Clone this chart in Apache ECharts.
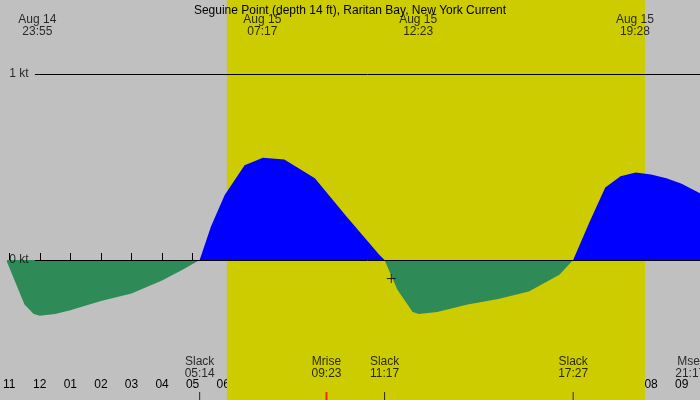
<!DOCTYPE html><html><head><meta charset="utf-8">
<script src="https://cdn.jsdelivr.net/npm/echarts@6/dist/echarts.min.js"></script>
<style>html,body{margin:0;background:#c0c0c0}#c{width:700px;height:400px}</style></head><body><div id="c"></div>
<script>
// hours from midnight Aug 15
const floodT=[5.23,5.6,6.05,6.7,7.3,8,9,10,11.1,11.28, 17.45,18,18.5,19,19.5,20,20.5,21,21.7];
const floodV=[0,0.18,0.35,0.51,0.55,0.54,0.44,0.24,0.03,0, 0,0.21,0.39,0.45,0.47,0.46,0.44,0.41,0.35];
const ebbT=[-1.1,-0.8,-0.5,-0.2,0,0.5,1,2,3,4,4.7,5.23, 11.28,11.7,12.2,12.4,13,14,15,16,17,17.45];
const ebbV=[0,-0.12,-0.24,-0.29,-0.3,-0.29,-0.27,-0.22,-0.18,-0.11,-0.05,0, 0,-0.16,-0.28,-0.29,-0.28,-0.24,-0.21,-0.17,-0.08,0];
const topT=[-0.08,7.28,12.38,19.47];
const topDate=['Aug 14','Aug 15','Aug 15','Aug 15'];
const topTime=['23:55','07:17','12:23','19:28'];
const botT=[-1.25,5.23,9.38,11.28,17.45,21.28];
const botName=['Slack','Slack','Mrise','Slack','Slack','Mset'];
const botTime=['22:45','05:14','09:23','11:17','17:27','21:17'];
const hourTicks=[-1,0,1,2,3,4,5,6,7,8,9,10,11,12,13,14,15,16,17,18,19,20,21];
const dayStart=6.12, dayEnd=19.8;
const XMIN=-1.07,XMAX=21.6,YMIN=-0.753,YMAX=1.398;
const yAt=px=>YMAX-px*(YMAX-YMIN)/400;
const split=(t,v)=>{const d=[];for(let i=0;i<t.length;i++){if(i>0&&t[i]===t[i-1]){}d.push([t[i],v[i]]);if(i<t.length-1&&v[i]===0&&v[i+1]===0)d.push([t[i]+0.01,null]);}return d;};
const txt=(s)=>({color:'#000',fontFamily:'Liberation Sans, Arial',fontSize:12});
const c=echarts.init(document.getElementById('c'));
c.setOption({
 backgroundColor:'#c0c0c0',animation:false,
 title:{text:'Seguine Point (depth 14 ft), Raritan Bay, New York Current',left:'center',top:0,textStyle:{fontFamily:'Liberation Sans, Arial',fontSize:12,fontWeight:'normal',color:'#000'}},
 grid:{left:0,right:0,top:0,bottom:0},
 xAxis:{type:'value',min:XMIN,max:XMAX,splitLine:{show:false},axisLine:{show:false},
  axisTick:{inside:true,length:7,lineStyle:{color:'#000'},customValues:hourTicks},
  axisLabel:{inside:true,margin:9,color:'#000',fontFamily:'Liberation Sans, Arial',fontSize:12,customValues:hourTicks,
   formatter:v=>{let h=((Math.round(v)%12)+12)%12;if(h===0)h=12;return String(h).padStart(2,'0');}}},
 yAxis:{type:'value',min:YMIN,max:YMAX,show:false},
 series:[
  {type:'line',data:split(floodT,floodV),symbol:'none',lineStyle:{width:0},areaStyle:{color:'#0000ff',opacity:1},z:3,
   markArea:{silent:true,itemStyle:{color:'#cccc00'},data:[[{xAxis:dayStart},{xAxis:dayEnd}]]},
   markLine:{silent:true,symbol:'none',lineStyle:{color:'#000',width:1,type:'solid'},label:{show:false},
    data:[[{coord:[-0.16,1]},{coord:[XMAX,1]}],[{coord:[-0.16,0]},{coord:[XMAX,0]}]]}},
  {type:'line',data:split(ebbT,ebbV),symbol:'none',lineStyle:{width:0},areaStyle:{color:'#2e8b57',opacity:1},z:3},
  {type:'scatter',symbolSize:0,z:5,data:[[-0.68,1],[-0.68,0]],
   label:{show:true,position:'inside',formatter:p=>p.dataIndex?'0 kt':'1 kt',...txt()}},
  {type:'scatter',symbolSize:0,z:5,data:topT.map((t,i)=>[t,yAt(20)]),
   label:{show:true,position:'inside',formatter:p=>topDate[p.dataIndex],...txt()}},
  {type:'scatter',symbolSize:0,z:5,data:topT.map((t,i)=>[t,yAt(32)]),
   label:{show:true,position:'inside',formatter:p=>topTime[p.dataIndex],...txt()}},
  {type:'scatter',symbolSize:0,z:5,data:botT.map(t=>[t,yAt(362)]),
   label:{show:true,position:'inside',formatter:p=>botName[p.dataIndex],...txt()}},
  {type:'scatter',symbolSize:0,z:5,data:botT.map(t=>[t,yAt(374)]),
   label:{show:true,position:'inside',formatter:p=>botTime[p.dataIndex],...txt()}},
  {type:'scatter',symbol:'rect',symbolSize:[2,8],z:5,itemStyle:{color:'#ff0000'},data:[[9.38,yAt(396)]]},
  {type:'scatter',symbol:'rect',symbolSize:[1,8],z:5,itemStyle:{color:'#000'},data:[[5.23,yAt(396)],[11.28,yAt(396)],[17.45,yAt(396)]]},
  {type:'scatter',symbol:'path://M0,5L10,5M5,0L5,10',symbolSize:9,z:6,itemStyle:{color:'none',borderColor:'#000',borderWidth:1},data:[[11.5,-0.1]]}
 ]
});
</script></body></html>
